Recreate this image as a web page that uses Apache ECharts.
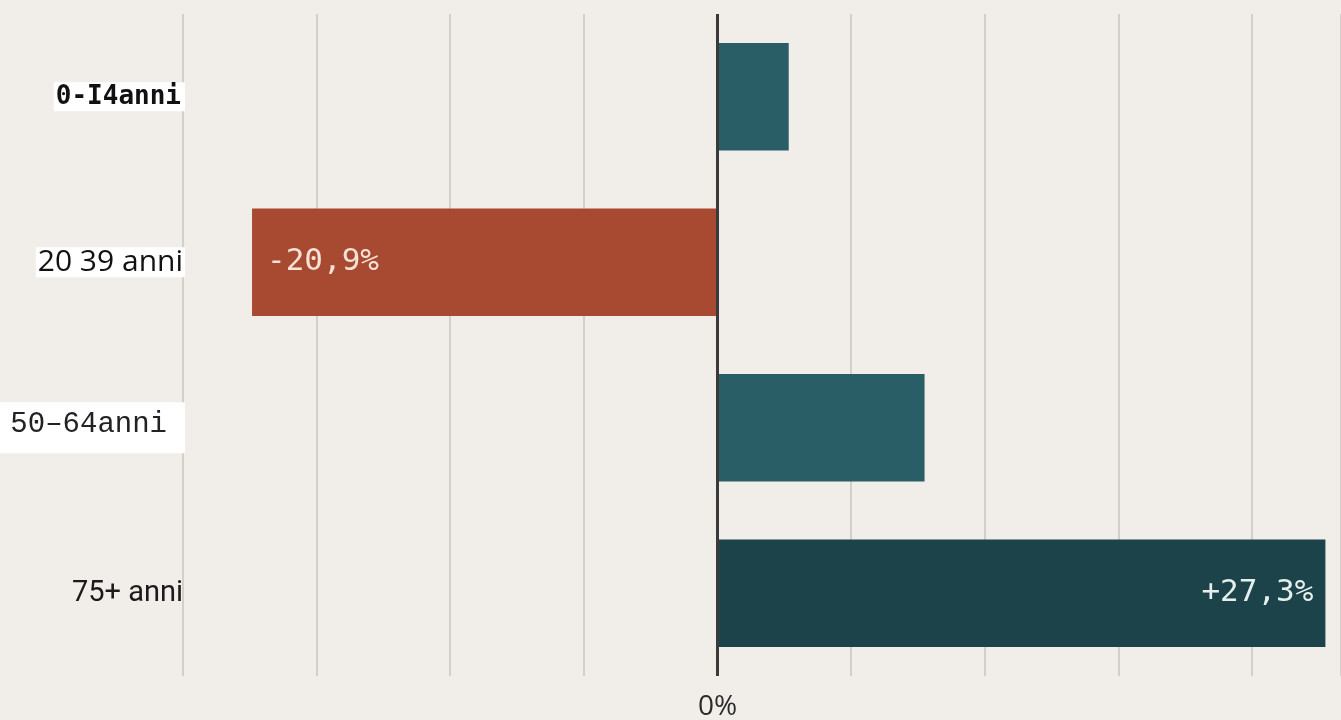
<!DOCTYPE html>
<html>
<head>
<meta charset="utf-8">
<script src="https://cdn.jsdelivr.net/npm/echarts@6/dist/echarts.min.js"></script>
<style>
  html, body { margin: 0; padding: 0; background: #f1eee9; }
  #chart { width: 1341px; height: 720px; }
</style>
</head>
<body>
<div id="chart"></div>
<script>
// Age groups, top to bottom
const categories = ['0-I4anni', '20 39 anni', '50–64anni', '75+ anni'];
// Change in resident population, percent
const values = [3.2, -20.9, 9.3, 27.3];
// Value labels printed on the bars ('' = no label)
const barLabels = ['', '-20,9%', '', '+27,3%'];
// Only the zero tick is labelled on the value axis
const zeroTickLabel = '0%';

const barColors = ['#2a5e66', '#a84a32', '#2a5e66', '#1b4349'];
const labelStyleKeys = ['a', 'b', 'c', 'd'];

const chart = echarts.init(document.getElementById('chart'), null, { renderer: 'canvas' });

const option = {
  backgroundColor: '#f1eee9',
  animation: false,
  grid: {
    left: 183, right: 0, top: 14, bottom: 44,
    containLabel: false,
    outerBoundsMode: 'none'
  },
  xAxis: {
    type: 'value',
    min: -24,
    max: 28,
    interval: 6,
    axisLine: { show: false },
    axisTick: { show: false },
    splitLine: { show: true, lineStyle: { color: '#d2d0cb', width: 2 } },
    axisLabel: {
      margin: 17,
      fontFamily: 'Open Sans',
      fontSize: 28,
      color: '#2b2b2b',
      formatter: v => (v === 0 ? zeroTickLabel : '')
    }
  },
  yAxis: {
    type: 'category',
    inverse: true,
    data: categories,
    axisLine: { show: false, onZero: false },
    axisTick: { show: false },
    splitLine: { show: false },
    axisLabel: {
      margin: -2,
      formatter: (v, i) => '{' + labelStyleKeys[i] + '|' + v + '}',
      rich: {
        a: {
          fontFamily: 'DejaVu Sans Mono', fontWeight: 'bold', fontSize: 26, color: '#111',
          backgroundColor: '#ffffff', padding: [2, 4, 1, 2]
        },
        b: {
          fontFamily: 'Open Sans', fontSize: 30, color: '#111',
          backgroundColor: '#ffffff', padding: [0, 2, 0, 2]
        },
        c: {
          fontFamily: 'Liberation Mono', fontSize: 29, color: '#222',
          backgroundColor: '#ffffff', padding: [8, 18, 14, 13]
        },
        d: {
          fontFamily: 'Roboto', fontSize: 29, color: '#1a1a1a', padding: [0, 2, 0, 0]
        }
      }
    }
  },
  series: [{
    type: 'bar',
    barCategoryGap: '35%',
    data: values.map((v, i) => ({
      value: v,
      itemStyle: { color: barColors[i] },
      label: {
        show: barLabels[i] !== '',
        position: v < 0 ? 'insideLeft' : 'insideRight',
        distance: v < 0 ? 15 : 12,
        formatter: barLabels[i],
        color: v < 0 ? '#f6e2d7' : '#e4efee'
      }
    })),
    label: {
      fontFamily: 'DejaVu Sans Mono',
      fontSize: 31
    },
    markLine: {
      silent: true,
      symbol: 'none',
      label: { show: false },
      lineStyle: { color: '#3a3a3a', width: 3, type: 'solid' },
      data: [{ xAxis: 0 }]
    }
  }]
};

chart.setOption(option);
</script>
</body>
</html>
